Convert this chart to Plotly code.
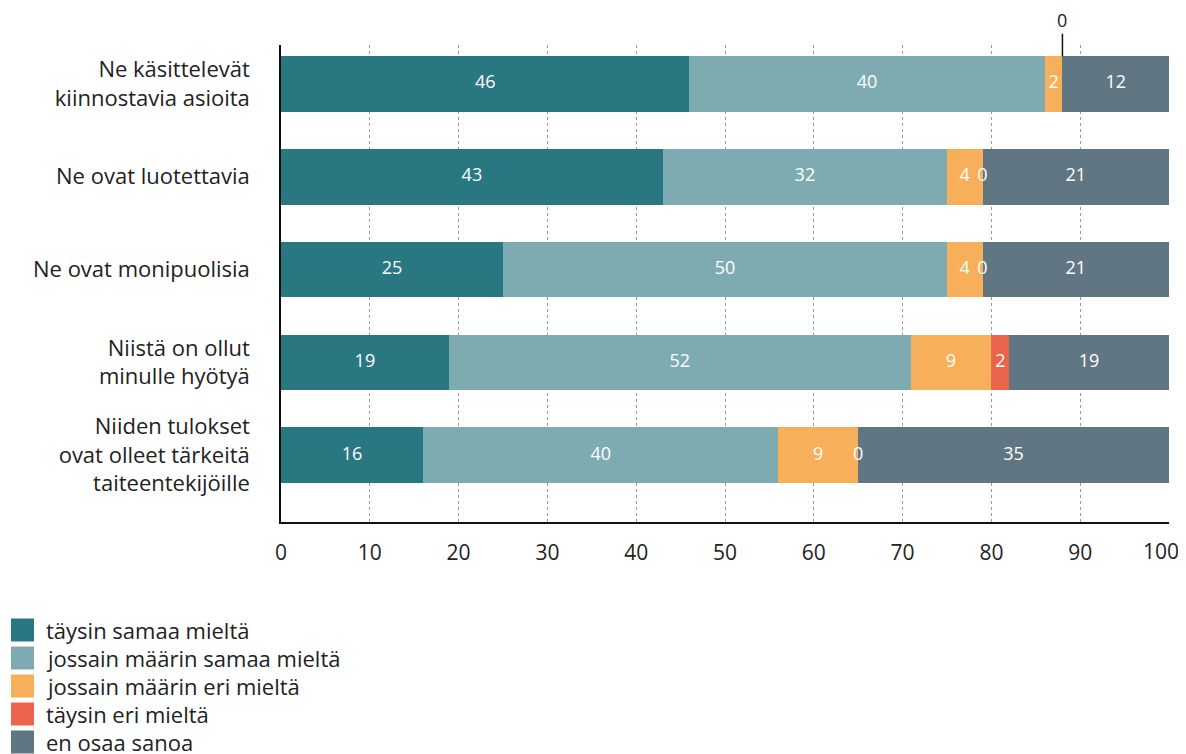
import plotly.graph_objects as go

categories = [
    "Ne käsittelevät<br>kiinnostavia asioita",
    "Ne ovat luotettavia",
    "Ne ovat monipuolisia",
    "Niistä on ollut<br>minulle hyötyä",
    "Niiden tulokset<br>ovat olleet tärkeitä<br>taiteentekijöille",
]
series_names = [
    "täysin samaa mieltä",
    "jossain määrin samaa mieltä",
    "jossain määrin eri mieltä",
    "täysin eri mieltä",
    "en osaa sanoa",
]
colors = ["#297780", "#7eabb1", "#f7af5a", "#ec644b", "#607682"]

taysin_samaa = [46, 43, 25, 18.9, 16]
jossain_samaa = [40, 32, 50, 52.0, 40]
jossain_eri = [2, 4, 4, 9.1, 9]
taysin_eri = [0, 0, 0, 2.0, 0]
en_osaa = [12, 21, 21, 18.6, 35]
series_values = [taysin_samaa, jossain_samaa, jossain_eri, taysin_eri, en_osaa]

x_ticks = [0, 10, 20, 30, 40, 50, 60, 70, 80, 90, 100]

FONT = "Open Sans"
# page body has an 8px margin; figure sized/offset to compensate
OFF = 8
W, H = 1186 - OFF, 754 - OFF
ML, MT = 281 - OFF, 45 - OFF
MR = (W + OFF) - 1169
MB = (H + OFF) - 522
PW = W - ML - MR
PH = H - MT - MB


def px_to_paper_x(px):
    return (px - OFF - ML) / PW


def px_to_paper_y(py):
    return (MT + PH - (py - OFF)) / PH


fig = go.Figure()
for name, vals, col in zip(series_names, series_values, colors):
    fig.add_trace(go.Bar(
        y=categories, x=vals, name=name, orientation="h",
        marker=dict(color=col, line=dict(width=0)),
        width=0.6, hoverinfo="skip", showlegend=False,
    ))

# segment labels
lab_x, lab_y, lab_t = [], [], []
zero_top = []
for r, cat in enumerate(categories):
    cum = 0.0
    for s, vals in enumerate(series_values):
        v = vals[r]
        vis_end = min(cum + v, 100)
        center = (cum + vis_end) / 2
        if v == 0 and r == 0:
            zero_top.append((cum, cat))
        else:
            lab_x.append(center)
            lab_y.append(cat)
            lab_t.append(str(int(round(v))))
        cum += v

fig.add_trace(go.Scatter(
    x=lab_x, y=lab_y, text=lab_t, mode="text",
    textfont=dict(color="white", size=18, family=FONT),
    textposition="middle center", hoverinfo="skip", showlegend=False,
    cliponaxis=False,
))

for xz, cat in zero_top:
    fig.add_annotation(
        x=xz, y=-0.3, xref="x", yref="y", text="0",
        showarrow=True, arrowhead=0, arrowwidth=1.5, arrowcolor="#111",
        ax=0, ay=-36, font=dict(size=18, color="#222", family=FONT),
    )

# custom legend
for i, (name, col) in enumerate(zip(series_names, colors)):
    cy = 630 + 28 * i
    fig.add_shape(
        type="rect", xref="paper", yref="paper",
        x0=px_to_paper_x(11), x1=px_to_paper_x(34),
        y0=px_to_paper_y(cy - 11.5), y1=px_to_paper_y(cy + 11.5),
        fillcolor=col, line=dict(width=0),
    )
    fig.add_annotation(
        x=px_to_paper_x(44), y=px_to_paper_y(cy), xref="paper", yref="paper",
        text=name, showarrow=False, xanchor="left", yanchor="middle",
        font=dict(size=22, color="#222", family=FONT),
    )

# tick labels: the last one is drawn nudged inward so it stays inside the page
tick_text = [str(t) for t in x_ticks]
last_tick = x_ticks[-1]
tick_text_axis = tick_text[:-1] + [""]
fig.add_annotation(
    x=last_tick, y=px_to_paper_y(551), xref="x", yref="paper",
    text=tick_text[-1], showarrow=False, xanchor="center", yanchor="middle",
    xshift=-8, font=dict(size=21, color="#222", family=FONT),
)

fig.update_layout(
    barmode="stack",
    width=W, height=H,
    margin=dict(l=ML, r=MR, t=MT, b=MB, pad=0, autoexpand=False),
    plot_bgcolor="white", paper_bgcolor="white",
    font=dict(family=FONT, color="#222", size=22),
    showlegend=False,
)
fig.update_xaxes(
    range=[0, 100], tickvals=x_ticks, ticktext=tick_text_axis,
    showgrid=True, gridcolor="#9a9a9a", griddash="dot", gridwidth=1,
    showline=True, linecolor="#111", linewidth=1.5,
    zeroline=False, ticks="", ticklabelstandoff=11,
    automargin=False,
    tickfont=dict(size=21, color="#222", family=FONT),
)
fig.update_yaxes(
    range=[4.72, -0.42], type="category",
    showgrid=False, showline=True, linecolor="#111", linewidth=1.5,
    ticks="", ticklabelstandoff=25, automargin=False,
    tickfont=dict(size=22, color="#222", family=FONT),
)

fig.write_html("out.html")
